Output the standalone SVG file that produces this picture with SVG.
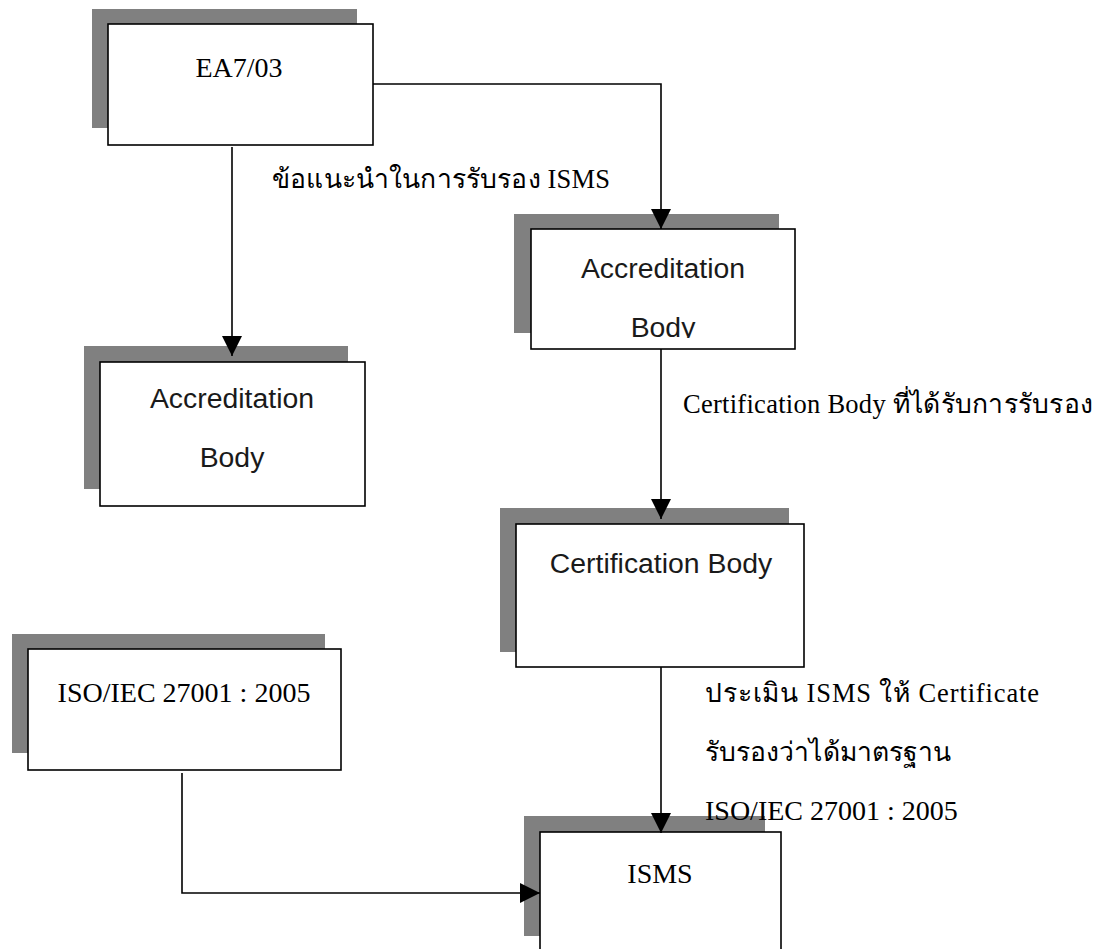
<svg xmlns="http://www.w3.org/2000/svg" width="1101" height="949" viewBox="0 0 1101 949">
  <style>
    .shadow { fill: #808080; }
    .box { fill: #ffffff; stroke: #000000; stroke-width: 1.6; }
    .serif { font-family: "Liberation Serif", "Times New Roman", serif; font-size: 28px; fill: #000; }
    .sans { font-family: "Liberation Sans", Arial, sans-serif; font-size: 28.4px; fill: #1a1a1a; }
    .label { font-family: "Liberation Serif", "Times New Roman", serif; font-size: 26.5px; fill: #000; }
    .conn { fill: none; stroke: #000000; stroke-width: 1.6; }
  </style>
  <defs>
    <marker id="arrow" viewBox="0 0 20 20" markerWidth="20" markerHeight="20" refX="20" refY="10" orient="auto" markerUnits="userSpaceOnUse">
      <path d="M0,0 L20,10 L0,20 Z" fill="#000"/>
    </marker>
    <clipPath id="clipAB2">
      <rect x="531" y="229" width="264" height="109"/>
    </clipPath>
  </defs>

  <rect width="1101" height="949" fill="#ffffff"/>

  <!-- EA7/03 -->
  <g id="ea7">
    <rect class="shadow" x="92" y="9" width="265" height="119"/>
    <rect class="box" x="108" y="24" width="265" height="121"/>
    <text class="serif" x="239" y="77" text-anchor="middle">EA7/03</text>
  </g>

  <!-- Accreditation Body (left) -->
  <g id="ab-left">
    <rect class="shadow" x="84" y="346" width="264" height="143"/>
    <rect class="box" x="100" y="362" width="265" height="144"/>
    <text class="sans" x="232" y="408" text-anchor="middle">Accreditation</text>
    <text class="sans" x="232" y="467" text-anchor="middle">Body</text>
  </g>

  <!-- Accreditation Body (right) -->
  <g id="ab-right">
    <rect class="shadow" x="514" y="214" width="265" height="119"/>
    <rect class="box" x="531" y="229" width="264" height="120"/>
    <g clip-path="url(#clipAB2)">
      <text class="sans" x="663" y="278" text-anchor="middle">Accreditation</text>
      <text class="sans" x="663" y="337" text-anchor="middle">Body</text>
    </g>
  </g>

  <!-- Certification Body -->
  <g id="cb">
    <rect class="shadow" x="500" y="508" width="289" height="144"/>
    <rect class="box" x="516" y="524" width="288" height="143"/>
    <text class="sans" x="661" y="573" text-anchor="middle">Certification Body</text>
  </g>

  <!-- ISO/IEC 27001 : 2005 -->
  <g id="iso">
    <rect class="shadow" x="12" y="634" width="313" height="119"/>
    <rect class="box" x="28" y="649" width="313" height="121"/>
    <text class="serif" x="184" y="702" text-anchor="middle">ISO/IEC 27001 : 2005</text>
  </g>

  <!-- ISMS -->
  <g id="isms">
    <rect class="shadow" x="524" y="816" width="241" height="120"/>
    <rect class="box" x="540" y="832" width="241" height="140"/>
    <text class="serif" x="660" y="883" text-anchor="middle">ISMS</text>
  </g>

  <!-- connectors -->
  <g id="connectors">
    <path class="conn" d="M232,147 L232,356" marker-end="url(#arrow)"/>
    <path class="conn" d="M373,84 L661,84 L661,229" marker-end="url(#arrow)"/>
    <path class="conn" d="M661,349 L661,519" marker-end="url(#arrow)"/>
    <path class="conn" d="M661,667 L661,833" marker-end="url(#arrow)"/>
    <path class="conn" d="M182,773 L182,893 L540,893" marker-end="url(#arrow)"/>
  </g>

  <!-- connector labels -->
  <g id="labels">
    <text class="label" x="272" y="188" textLength="338" lengthAdjust="spacing">ข้อแนะนำในการรับรอง ISMS</text>
    <text class="label" x="683" y="413" textLength="410" lengthAdjust="spacing">Certification Body ที่ได้รับการรับรอง</text>
    <text class="label" x="705" y="702" textLength="334" lengthAdjust="spacing">ประเมิน ISMS ให้  Certificate</text>
    <text class="label" x="705" y="761" textLength="246" lengthAdjust="spacing">รับรองว่าได้มาตรฐาน</text>
    <text class="serif" x="705" y="820">ISO/IEC 27001 : 2005</text>
  </g>
</svg>
